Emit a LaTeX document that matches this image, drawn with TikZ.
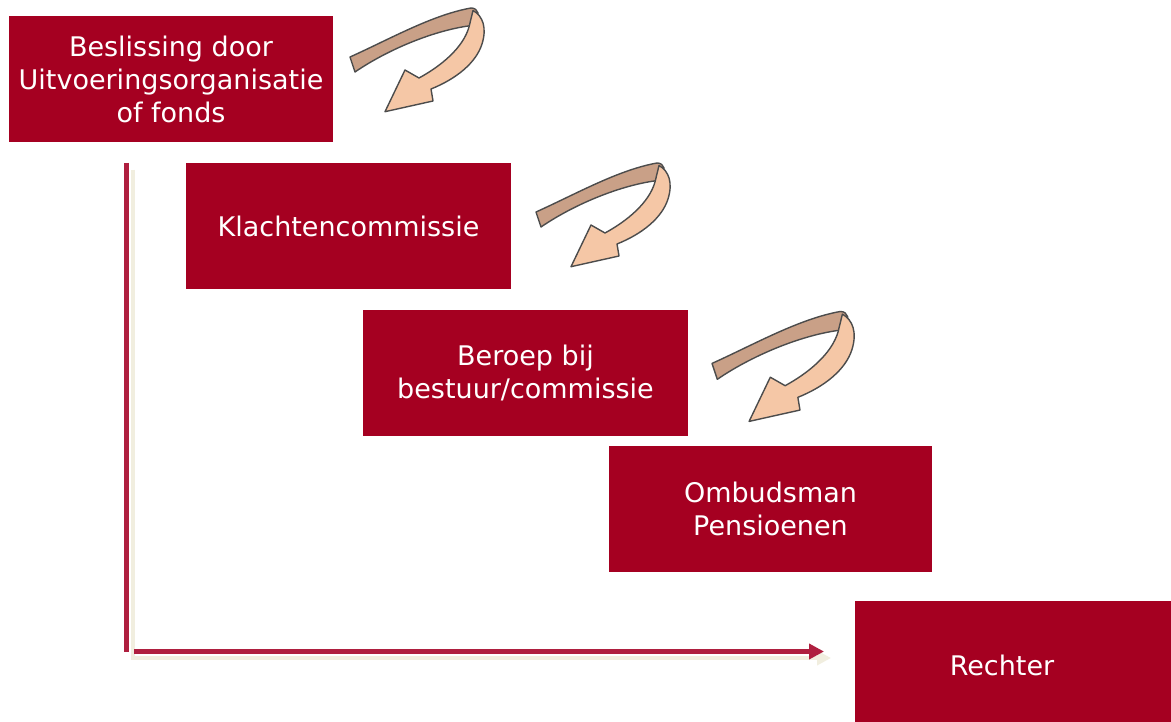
\documentclass[tikz,border=0pt]{standalone}
\usepackage{fontspec}
\setmainfont{DejaVu Sans}
\usetikzlibrary{arrows.meta}
\definecolor{boxred}{HTML}{A50021}
\definecolor{axisred}{HTML}{AF1F3F}
\definecolor{shadowc}{HTML}{F1EEDF}
\definecolor{bandback}{HTML}{C9A087}
\definecolor{bandfront}{HTML}{F5C7A6}
\tikzset{
  stepbox/.style={rectangle, fill=boxred, text=white, inner sep=0pt, align=center,
    font=\fontsize{27}{33}\selectfont},
  axisline/.style={draw=axisred, line width=5pt},
  shadowline/.style={draw=shadowc, line width=4pt},
  curl/.pic={
    \filldraw[fill=bandback, draw=black!70, line width=1.4pt, line join=round]
      (0,57) .. controls (40,39) and (82,15) .. (121,8)
      .. controls (125,8) and (127,10) .. (128,13)
      -- (127,25)
      .. controls (90,28) and (40,48) .. (5,72)
      -- cycle;
    \filldraw[fill=bandfront, draw=black!70, line width=1.4pt, line join=round]
      (123,10.5) .. controls (133,16) and (137,28) .. (132,44)
      .. controls (126,63) and (106,79) .. (81,89)
      -- (83,101) -- (35,111.7) -- (55,70) -- (69,78)
      .. controls (91,66) and (113,48) .. (119,27)
      -- cycle;
  }
}
\begin{document}
\begin{tikzpicture}[x=1pt,y=-1pt]
\useasboundingbox[fill=white] (0,0) rectangle (1171,722);
% axes coordinates
\coordinate (ytop) at (126,163);
\coordinate (corner) at (126,652);
\coordinate (xstart) at (134,651.5);
\coordinate (xend) at (824,651.5);
\coordinate (sytop) at (133,170);
\coordinate (scorner) at (133,658);
\coordinate (sxend) at (831,658);
% shadow of axes
\draw[shadowline, -{Triangle[length=14pt,width=14pt]}] (sytop) -- (scorner) -- (sxend);
% axes
\draw[axisline] (ytop) -- (corner);
\draw[axisline, -{Triangle[length=15pt,width=15pt]}] (xstart) -- (xend);
% boxes
\node[stepbox, minimum width=324pt, minimum height=126pt] (b1) at (171,79)
  {Beslissing door\\Uitvoeringsorganisatie\\of fonds};
\node[stepbox, minimum width=325pt, minimum height=126pt] (b2) at (348.5,226)
  {Klachtencommissie};
\node[stepbox, minimum width=325pt, minimum height=126pt] (b3) at (525.5,373)
  {Beroep bij\\bestuur/commissie};
\node[stepbox, minimum width=323pt, minimum height=126pt] (b4) at (770.5,509)
  {Ombudsman\\Pensioenen};
\node[stepbox, minimum width=316pt, minimum height=121pt] (b5) at (1013,661.5) {};
\node[text=white, font=\fontsize{27}{33}\selectfont, inner sep=0pt] (t5) at (1002,665) {Rechter};
% curled arrows
\pic (c1) at (350,0) {curl};
\pic (c2) at (536,155) {curl};
\pic[scale=1.06] (c3) at (712,303) {curl};
\end{tikzpicture}
\end{document}
